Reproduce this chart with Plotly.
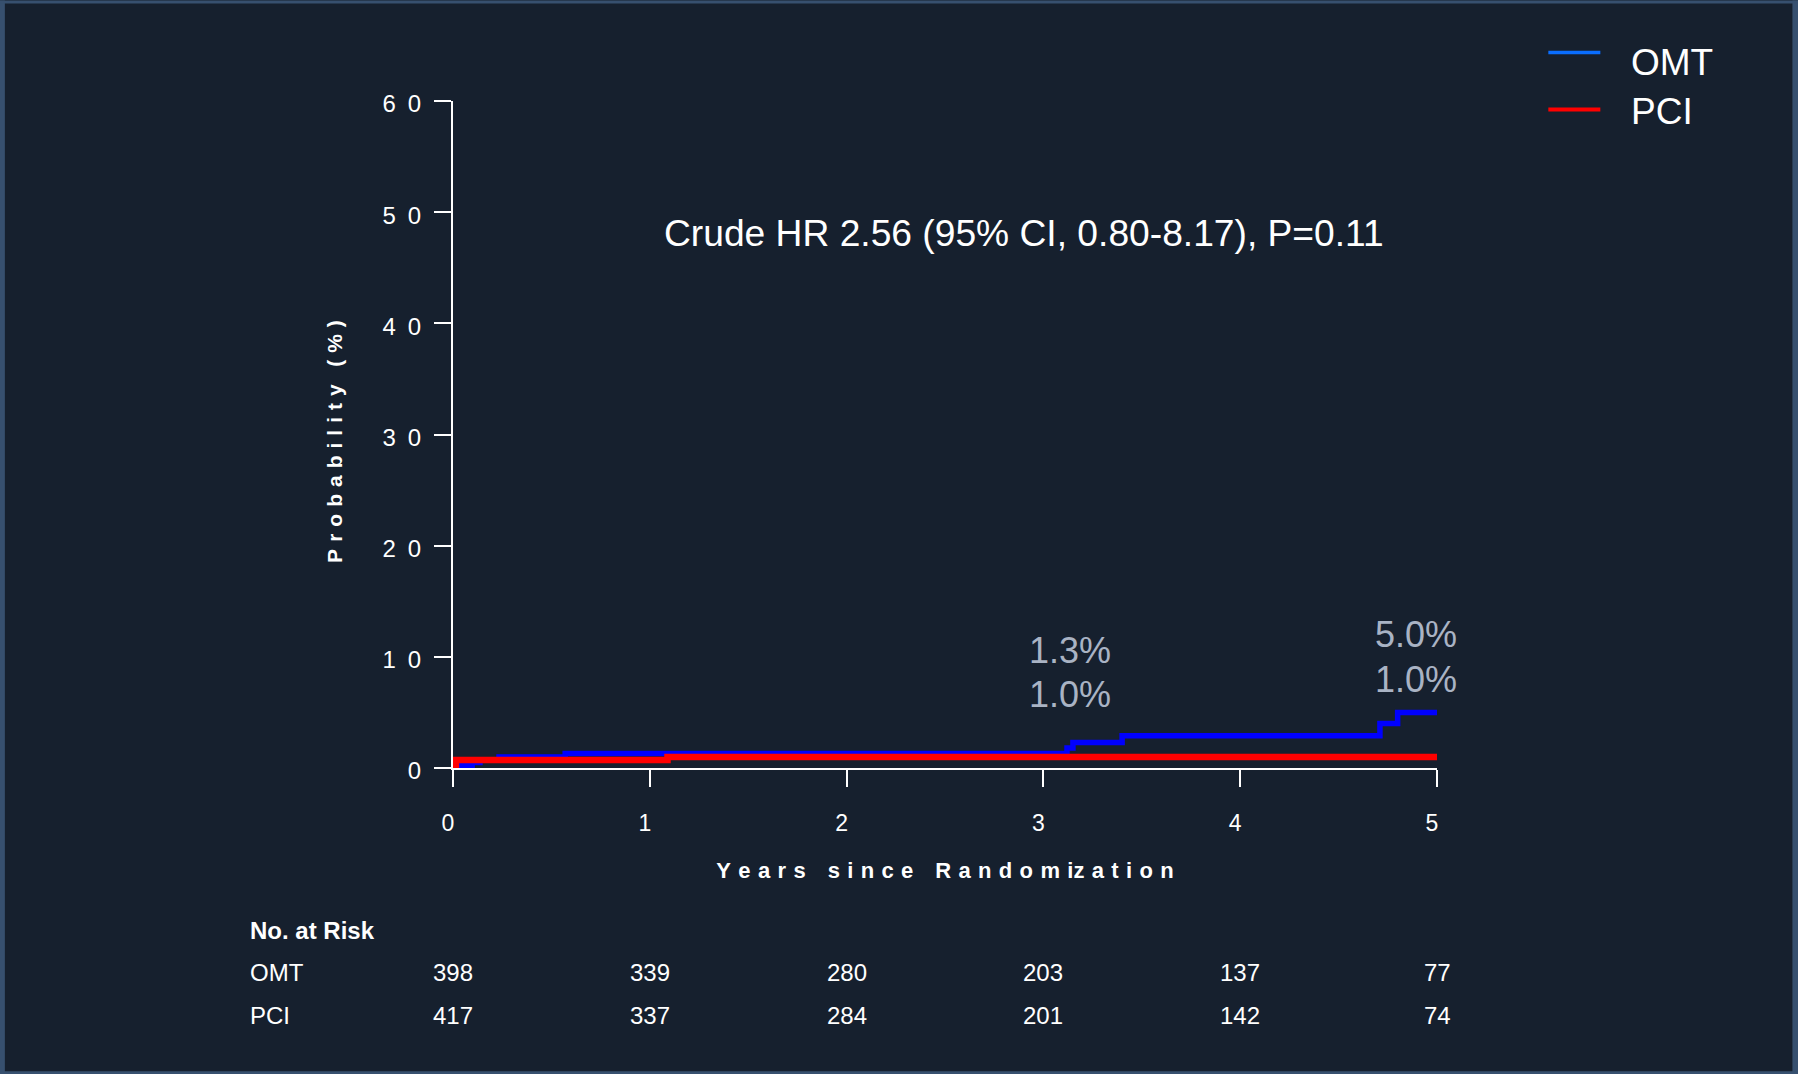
import plotly.graph_objects as go

# Cumulative event probability (%) by years since randomization
omt_years = [0, 0.097, 0.137, 0.234, 0.57, 3.12, 3.15, 3.40, 4.71, 4.80, 5.0]
omt_prob = [0.25, 0.5, 0.75, 1.0, 1.3, 1.8, 2.3, 2.9, 4.0, 5.0, 5.0]
pci_years = [0, 0.015, 1.09, 5.0]
pci_prob = [0.24, 0.72, 1.0, 1.0]

# Number at risk table
risk_years = [0, 1, 2, 3, 4, 5]
omt_at_risk = [398, 339, 280, 203, 137, 77]
pci_at_risk = [417, 337, 284, 201, 142, 74]

x_tick_vals = [0, 1, 2, 3, 4, 5]
y_tick_vals = [0, 10, 20, 30, 40, 50, 60]
label_years = [3, 5]
hr_text = "Crude HR 2.56 (95% CI, 0.80-8.17), P=0.11"

BG = "#16202E"
FRAME = "#37506F"
OMT_LINE = "#0000FF"
PCI_LINE = "#FF0000"
OMT_KEY = "#0A6EFF"
LABEL_GREY = "#A9B3C4"
FONT = "Arial, Liberation Sans, sans-serif"

W, H = 1798, 1074
L, R, T, B = 453, 1436.7, 100.5, 767.7


def px(xp):
    return (xp - L) / (R - L)


def py(yp):
    return (B - yp) / (B - T)


def value_at(years, probs, t):
    v = probs[0]
    for yr, p in zip(years, probs):
        if yr <= t:
            v = p
    return v


def spaced(text, gap="\u2002"):
    return gap.join(list(text))


fig = go.Figure()
fig.add_trace(go.Scatter(x=omt_years, y=omt_prob, mode="lines", line_shape="hv",
                         line=dict(color=OMT_LINE, width=5.5), name="OMT", showlegend=False))
fig.add_trace(go.Scatter(x=pci_years, y=pci_prob, mode="lines", line_shape="hv",
                         line=dict(color=PCI_LINE, width=6.5), name="PCI", showlegend=False))

annotations = []
# Hazard ratio statement
annotations.append(dict(x=px(1023.5), y=py(233), xref="paper", yref="paper", text=hr_text,
                        showarrow=False, font=dict(size=37.2, color="white", family=FONT),
                        xanchor="center", yanchor="middle"))

# Event rate labels at 3 and 5 years
label_pos = {3: (3.135, 10.6, 6.6), 5: (4.895, 12.0, 8.0)}
for yr in label_years:
    xpos, y_top, y_bot = label_pos[yr]
    o = value_at(omt_years, omt_prob, yr)
    p = value_at(pci_years, pci_prob, yr)
    for val, ypos in ((o, y_top), (p, y_bot)):
        annotations.append(dict(x=xpos, y=ypos, xref="x", yref="y", text=f"{val:.1f}%",
                                showarrow=False, font=dict(size=36, color=LABEL_GREY, family=FONT),
                                xanchor="center", yanchor="middle"))

# Legend
annotations.append(dict(x=px(1629), y=py(62), xref="paper", yref="paper", text="OMT",
                        showarrow=False, font=dict(size=37, color="white", family=FONT),
                        xanchor="left", yanchor="middle"))
annotations.append(dict(x=px(1629), y=py(111), xref="paper", yref="paper", text="PCI",
                        showarrow=False, font=dict(size=37, color="white", family=FONT),
                        xanchor="left", yanchor="middle"))

# Number at risk table
annotations.append(dict(x=px(248), y=py(930), xref="paper", yref="paper", text="<b>No. at Risk</b>",
                        showarrow=False, font=dict(size=24, color="white", family=FONT),
                        xanchor="left", yanchor="middle"))
for name, counts, yp in (("OMT", omt_at_risk, 972), ("PCI", pci_at_risk, 1015)):
    annotations.append(dict(x=px(248), y=py(yp), xref="paper", yref="paper", text=name,
                            showarrow=False, font=dict(size=24, color="white", family=FONT),
                            xanchor="left", yanchor="middle"))
    for t, n in zip(risk_years, counts):
        annotations.append(dict(x=t, y=py(yp), xref="x", yref="paper", text=str(n),
                                showarrow=False, font=dict(size=24, color="white", family=FONT),
                                xanchor="center", yanchor="middle"))

shapes = [
    # legend keys
    dict(type="line", xref="paper", yref="paper", x0=px(1548), x1=px(1600), y0=py(52), y1=py(52),
         line=dict(color=OMT_KEY, width=3.5)),
    dict(type="line", xref="paper", yref="paper", x0=px(1548), x1=px(1600), y0=py(109), y1=py(109),
         line=dict(color=PCI_LINE, width=4)),
    # page frame
    dict(type="rect", xref="paper", yref="paper", x0=px(0), x1=px(5), y0=py(0), y1=py(H),
         fillcolor=FRAME, line=dict(width=0), layer="below"),
    dict(type="rect", xref="paper", yref="paper", x0=px(0), x1=px(W), y0=py(0), y1=py(3),
         fillcolor=FRAME, line=dict(width=0), layer="below"),
    dict(type="rect", xref="paper", yref="paper", x0=px(W - 6), x1=px(W), y0=py(0), y1=py(H),
         fillcolor=FRAME, line=dict(width=0), layer="below"),
    dict(type="rect", xref="paper", yref="paper", x0=px(0), x1=px(W), y0=py(H - 3), y1=py(H),
         fillcolor=FRAME, line=dict(width=0), layer="below"),
]

x_title = "\u2003".join(spaced(w, "\u2004") for w in ["Years", "since", "Random", "ization"])
x_title = x_title.replace("m\u2003i\u2004z", "m\u2004iz")
# trailing gap keeps the rotated title sitting a little low, as in the R layout
y_title = spaced("Probability", "\u2004") + "\u2002\u2004" + spaced("(%)", "\u2004") + "\u2004\u2004"

fig.update_layout(
    width=W, height=H,
    margin=dict(l=L, r=W - R, t=T, b=H - B, autoexpand=False),
    paper_bgcolor=BG, plot_bgcolor=BG,
    showlegend=False,
    font=dict(family=FONT, color="white"),
    annotations=annotations,
    shapes=shapes,
    xaxis=dict(
        range=[0, 5], tickvals=x_tick_vals, ticktext=[str(v) for v in x_tick_vals],
        showline=True, linecolor="white", linewidth=2, ticks="outside", ticklen=17,
        tickwidth=2, tickcolor="white", showgrid=False, zeroline=False,
        tickfont=dict(size=23, color="white", family=FONT), ticklabelstandoff=16,
        ticklabelshift=-5, layer="below traces", automargin=False,
        title=dict(text="<b>" + x_title + "</b>",
                   font=dict(size=22, color="white", family=FONT), standoff=28),
    ),
    yaxis=dict(
        range=[0, 60], tickvals=y_tick_vals, ticktext=[spaced(str(v)) for v in y_tick_vals],
        showline=True, linecolor="white", linewidth=2, ticks="outside", ticklen=17,
        tickwidth=2, tickcolor="white", showgrid=False, zeroline=False,
        tickfont=dict(size=24, color="white", family=FONT), ticklabelstandoff=8,
        ticklabelshift=3, layer="below traces", automargin=False,
        title=dict(text="<b>" + y_title + "</b>",
                   font=dict(size=21, color="white", family=FONT), standoff=34),
    ),
)

fig.write_html("out.html")
